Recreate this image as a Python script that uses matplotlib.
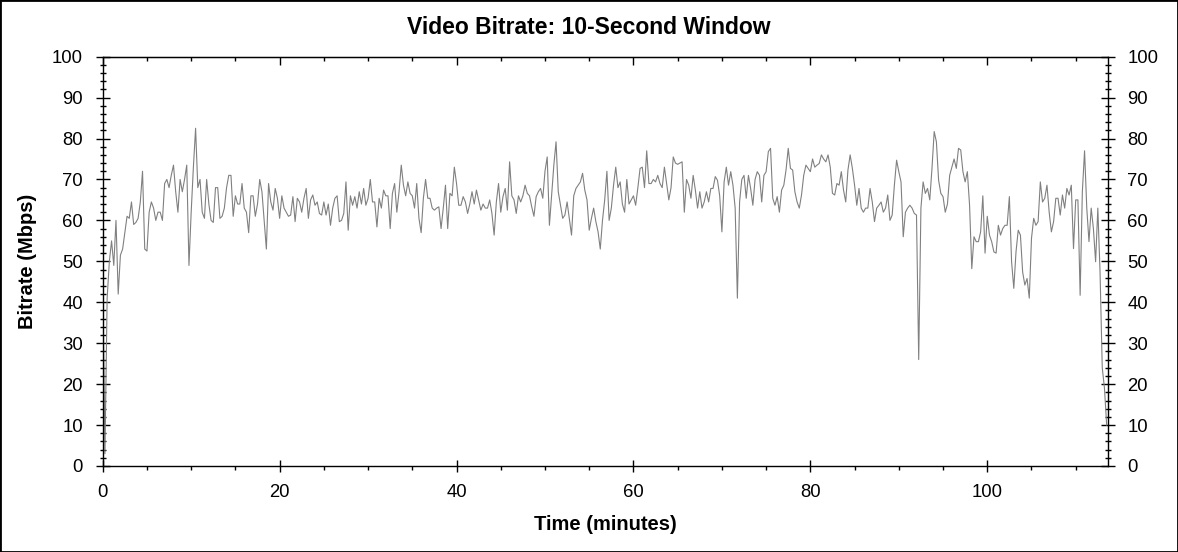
import numpy as np
import matplotlib
matplotlib.use('Agg')
import matplotlib.pyplot as plt
import matplotlib.ticker as ticker

plt.rcParams['font.family'] = ['Liberation Sans', 'DejaVu Sans']

# one reading every 15 s (0.25 min)
interval_min = 0.25
bitrate = [
    # 0-5 min
    47, 3, 41, 50, 55, 49, 60, 42, 51.5, 53, 57, 61, 60.5, 64.5, 59, 59.5, 60.5, 64.5, 72, 53,
    # 5-10
    52.5, 62, 64.5, 63, 60, 62, 62, 60, 69, 70, 68, 71, 73.5, 67, 62, 70, 67, 70, 73.5, 49,
    # 10-15
    62, 73, 82.5, 68, 70, 62, 60.5, 70, 64, 60, 59.5, 68, 68, 60.5, 61, 63, 68, 71, 71, 61,
    # 15-20
    66, 64, 64, 69, 63, 62, 57, 66, 66, 61, 64, 70, 67, 60, 53, 69, 64.5, 62.5, 67.8, 65.4,
    # 20-25
    60.5, 66, 63, 62, 61, 61.3, 65.8, 59.7, 65.4, 64.5, 62, 65.4, 67.8, 60.5, 65, 66.2, 63.7, 64.5, 61.7, 61.3,
    # 25-30
    64.5, 61.3, 64, 58.8, 63, 65.4, 66, 59.7, 60, 61.7, 69.4, 57.6, 66, 63.7, 65.8, 63, 67, 64, 67.8, 63.7,
    # 30-35
    65.4, 70, 64.5, 64.5, 58.4, 65.4, 63, 67.4, 66, 66, 58, 66.6, 69, 62, 67, 73.5, 68.6, 66, 69.4, 66.6,
    # 35-40
    66, 63, 69, 60.5, 57, 65.4, 70, 65.4, 65.4, 63, 62.5, 63, 63.3, 58, 63, 68.6, 58, 66.6, 66, 73,
    # 40-45
    69, 63.7, 63.7, 65.8, 64.5, 61.7, 64, 67, 64, 67.4, 65, 62.5, 64, 63, 63, 65, 61.7, 56.4, 64.5, 69,
    # 45-50
    62, 65.8, 67.8, 62.5, 74.3, 66, 65, 61.7, 66, 64.5, 66, 68.6, 66.6, 66, 63.3, 61, 65.8, 67, 67.8, 65.4,
    # 50-55
    72, 75.5, 58.8, 66, 73.5, 79.2, 67, 63.7, 60.5, 61.3, 64.5, 60.5, 56.4, 66, 67.8, 68.6, 69.4, 71.5, 67.4, 65,
    # 55-60
    57.6, 60.5, 63, 59.7, 57.2, 53, 60, 65, 72, 60, 63, 68.6, 73, 68, 69.4, 64, 62, 70, 64, 65,
    # 60-65
    66, 63.7, 68, 72.7, 73, 68, 77, 69, 69, 70, 69.4, 71, 69, 68, 73, 69, 65, 68, 75.5, 74,
    # 65-70
    73.7, 74, 74.3, 62, 70, 68.6, 65.4, 71, 67.4, 63, 67, 63, 64.5, 67, 64.5, 67.8, 67.8, 70.7, 69.8, 66,
    # 70-75
    57.2, 69.4, 73, 68.6, 71.9, 68.6, 63, 41, 64.5, 70, 71, 65.4, 71, 67.8, 63.7, 70, 71.9, 71, 64.5, 71,
    # 75-80
    71.9, 76.8, 77.6, 65.4, 63.7, 65.8, 62, 67.4, 68.6, 72.3, 77.6, 72.7, 72.3, 67, 64.5, 63, 66.2, 71, 73.5, 72.7,
    # 80-85
    71.9, 75, 73, 73.5, 73.9, 76, 75, 74.3, 76, 73, 66.6, 66.2, 69, 68.6, 71.9, 67.4, 64.5, 72.3, 76, 72.7,
    # 85-90
    68.6, 63.7, 67.8, 63, 62, 63, 63, 67.8, 64.5, 59.7, 63, 63.7, 64.5, 62, 63, 66.2, 60, 61.3, 68.6, 74.7,
    # 90-95
    71.9, 69.4, 56, 62, 63, 63.7, 63, 61.7, 61.3, 26, 63, 69.4, 66.6, 67.8, 65, 72.7, 81.7, 79.2, 69.8, 66.6,
    # 95-100
    65.8, 62, 64, 71, 73, 75, 72.7, 77.6, 77.2, 71.9, 69.4, 71.9, 63.7, 48.2, 56, 54.8, 54.8, 57.2, 66, 52,
    # 100-105
    61, 56.4, 54.8, 52.3, 52, 58.8, 56.4, 58, 58.8, 58.8, 65.8, 49.9, 43.4, 52.3, 57.6, 56.4, 47.4, 44.2, 45.8, 41,
    # 105-110
    55.6, 60.5, 58.8, 59.7, 69.4, 64.5, 65.4, 68.6, 62, 57.2, 59.7, 65.4, 65.4, 61.3, 66.2, 63, 67.8, 66.2, 68.6, 53.1,
    # 110-113.5
    65, 65, 41.7, 67, 77, 63, 54.8, 63, 58, 49.9, 63, 47.4, 24, 19, 10,
]
minutes = np.arange(len(bitrate)) * interval_min

title = 'Video Bitrate: 10-Second Window'
xlabel = 'Time (minutes)'
ylabel = 'Bitrate (Mbps)'

fig = plt.figure(figsize=(11.78, 5.52), dpi=100)
ax = fig.add_axes([0.0872, 0.1558, 0.8530, 0.7416])

ax.plot(minutes, bitrate, color='#808080', lw=0.8)

ax.set_xlim(0, 113.6)
ax.set_ylim(0, 100)
ax.xaxis.set_major_locator(ticker.MultipleLocator(20))
ax.xaxis.set_minor_locator(ticker.MultipleLocator(5))
ax.yaxis.set_major_locator(ticker.MultipleLocator(10))
ax.yaxis.set_minor_locator(ticker.MultipleLocator(2))

for sp in ax.spines.values():
    sp.set_linewidth(1.0)

ax.tick_params(axis='y', which='both', direction='inout', left=True, right=True,
               labelleft=True, labelright=True, labelsize=13.3, width=1.0)
ax.tick_params(axis='y', which='major', length=9.4, pad=9.5)
ax.tick_params(axis='y', which='minor', length=4.3)
ax.tick_params(axis='x', which='major', direction='inout', length=8, width=1.0,
               labelsize=13.3, pad=9.3)
ax.tick_params(axis='x', which='minor', direction='out', length=3, width=1.0)

# ticks along the top edge point inwards
top = ax.secondary_xaxis('top')
top.xaxis.set_major_locator(ticker.MultipleLocator(20))
top.xaxis.set_minor_locator(ticker.MultipleLocator(5))
top.tick_params(which='both', direction='in', labeltop=False, width=1.0)
top.tick_params(which='major', length=6)
top.tick_params(which='minor', length=3)

ax.set_xlabel(xlabel, fontsize=14.5, fontweight='bold')
ax.xaxis.set_label_coords(0.5, -0.1197)
ax.set_ylabel(ylabel, fontsize=14.5, fontweight='bold')
ax.yaxis.set_label_coords(-0.0654, 0.5)

fig.suptitle(title, x=0.5, y=0.951, va='center', fontsize=16.5, fontweight='bold')

# thin frame round the whole picture
fig.add_artist(plt.Rectangle((0, 0), 1, 1, transform=fig.transFigure,
                             fill=False, edgecolor='black', lw=2))

fig.savefig('out.png', dpi=100)
